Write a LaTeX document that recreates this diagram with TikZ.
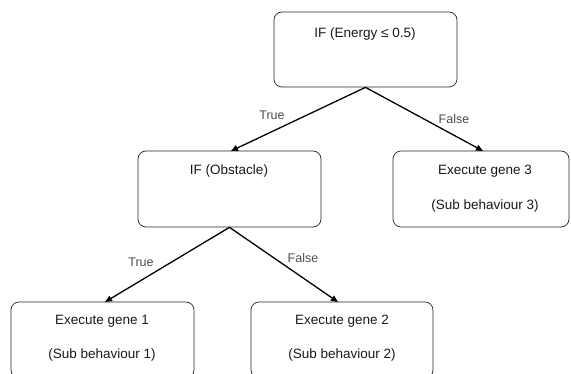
\documentclass[tikz,border=0pt]{standalone}
\usepackage{fontspec}
\setmainfont{Liberation Sans}
\usetikzlibrary{arrows.meta}
\begin{document}
\begin{tikzpicture}[x=1pt,y=-1pt,
  box/.style={draw=black!85,line width=0.7pt,rounded corners=8pt,inner sep=0pt},
  txt/.style={font=\fontsize{13.5}{15}\selectfont,inner sep=0pt,text=black!90},
  lbl/.style={font=\fontsize{12.5}{14}\selectfont,inner sep=0pt,text=black!70},
  arr/.style={line width=1.3pt,-{Triangle[length=7pt,width=6pt]}}]
\useasboundingbox (0,0) rectangle (571,374);
\clip (0,0) rectangle (571,374);
% boxes
\node[box,minimum width=183pt,minimum height=75pt] (top) at (365.5,49.5) {};
\node[box,minimum width=183pt,minimum height=76pt] (mid) at (229.5,189) {};
\node[box,minimum width=176pt,minimum height=76pt] (g3) at (481,189) {};
\node[box,minimum width=183pt,minimum height=76pt] (g1) at (102.5,340) {};
\node[box,minimum width=182pt,minimum height=76pt] (g2) at (342,340) {};
% texts
\node[txt] (ttop) at (365,34) {IF (Energy ≤ 0.5)};
\node[txt] (tmid) at (229,171) {IF (Obstacle)};
\node[txt] (t3a) at (485,171) {Execute gene 3};
\node[txt] (t3b) at (485,206) {(Sub behaviour 3)};
\node[txt] (t1a) at (102,321) {Execute gene 1};
\node[txt] (t1b) at (102,355) {(Sub behaviour 1)};
\node[txt] (t2a) at (342,321) {Execute gene 2};
\node[txt] (t2b) at (342,355) {(Sub behaviour 2)};
% connector ends
\coordinate (tip1) at (231,151);
\coordinate (tip2) at (483,151);
\coordinate (tip3) at (105,302);
\coordinate (tip4) at (338,302);
\draw[arr] (top.south) -- (tip1);
\draw[arr] (top.south) -- (tip2);
\draw[arr] (mid.south) -- (tip3);
\draw[arr] (mid.south) -- (tip4);
% labels
\node[lbl] (l1) at (272,115) {True};
\node[lbl] (l2) at (454,119) {False};
\node[lbl] (l3) at (141,262) {True};
\node[lbl] (l4) at (303,258) {False};
\end{tikzpicture}
\end{document}
